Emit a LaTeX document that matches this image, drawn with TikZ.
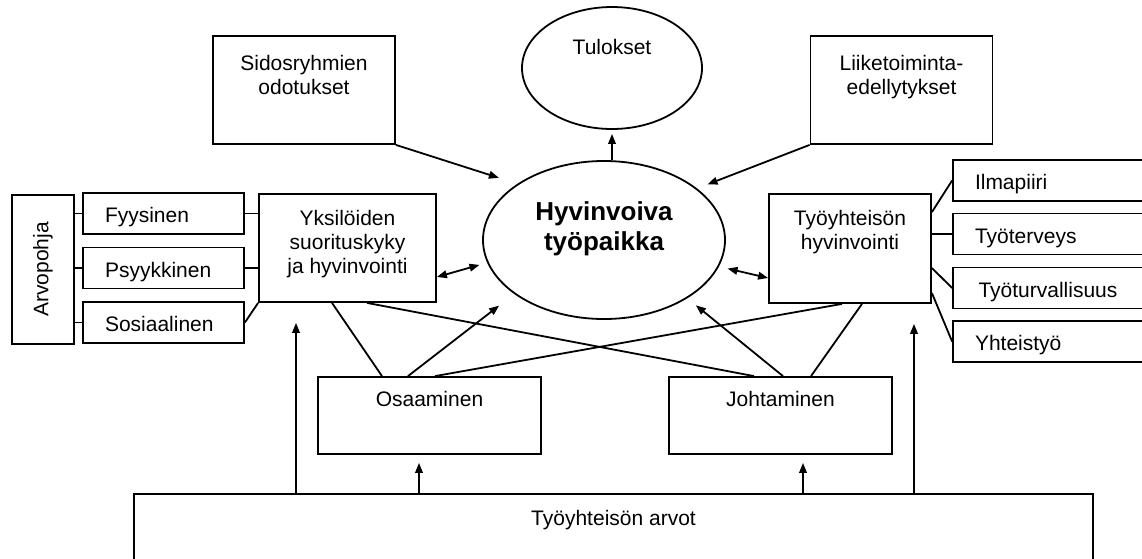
\documentclass[tikz,border=0pt]{standalone}
\usepackage{fontspec}
\setmainfont{Liberation Sans}
\usetikzlibrary{shapes.geometric, arrows.meta}

\begin{document}
\begin{tikzpicture}[x=0.5pt, y=-0.5pt, line width=0.9pt,
  font=\fontsize{10.5pt}{12pt}\selectfont,
  >={Triangle[length=5pt, width=3.8pt]},
  box/.style={draw, inner sep=0pt},
  sidebox/.style={draw, align=left, text width=58.5pt, inner xsep=11pt, text height=9.3pt, text depth=0pt, minimum height=20.5pt},
  toplabel/.style={anchor=north, align=center, inner sep=0pt}]
\useasboundingbox (0,0) rectangle (1142,558);

\node[box, minimum width=91pt, minimum height=54pt, label={[toplabel, yshift=-9.75pt]north:Sidosryhmien\\odotukset}] (sidos) at (304,90) {};
\node[box, ellipse, minimum width=90pt, minimum height=61pt, label={[toplabel, yshift=-16.25pt]north:Tulokset}] (tulokset) at (612,68) {};
\node[box, minimum width=91pt, minimum height=54pt, label={[toplabel, yshift=-9.75pt]north:Liiketoiminta-\\edellytykset}] (liike) at (901.5,90) {};
\node[box, ellipse, minimum width=121pt, minimum height=79pt, label={[toplabel, yshift=-20.3pt, font=\bfseries\fontsize{13pt}{15pt}\selectfont]north:Hyvinvoiva\\työpaikka}] (hyvin) at (604,240) {};

\node[box, minimum width=88.5pt, minimum height=54pt, label={[toplabel, yshift=-8.25pt]north:Yksilöiden\\suorituskyky\\ja hyvinvointi}] (yksil) at (347.5,248) {};
\node[box, minimum width=81pt, minimum height=54.5pt, label={[toplabel, yshift=-8.25pt]north:Työyhteisön\\hyvinvointi}] (tyoyht) at (850,248.5) {};

\node[box, rotate=90, minimum width=74.5pt, minimum height=31pt] (arvo) at (43,269.5) {Arvopohja};
\node[sidebox] (fyys) at (163.5,213.5) {Fyysinen};
\node[sidebox] (psyyk) at (163.5,268) {Psyykkinen};
\node[sidebox] (sosiaal) at (163.5,322.5) {Sosiaalinen};

\node[sidebox, text width=81.5pt] (ilma) at (1056.5,180.5) {Ilmapiiri};
\node[sidebox, text width=81.5pt] (tyoterv) at (1056.5,234) {Työterveys};
\node[sidebox, text width=81.5pt] (tyoturva) at (1056.5,288) {\,Työturvallisuus};
\node[sidebox, text width=81.5pt] (yhteis) at (1056.5,341.5) {Yhteistyö};

\node[box, minimum width=111.5pt, minimum height=38.5pt, label={[toplabel, yshift=-7.25pt]north:Osaaminen}] (osaam) at (429.5,415.5) {};
\node[box, minimum width=111.5pt, minimum height=38.5pt, label={[toplabel, yshift=-7.25pt]north:Johtaminen}] (johta) at (780.5,415.5) {};
\node[box, minimum width=479.5pt, minimum height=53pt, label={[toplabel, yshift=-8.25pt]north:Työyhteisön arvot}] (arvot) at (613.5,547) {};

\draw (arvo.south |- fyys.west) -- (fyys.west);
\draw (arvo.south |- psyyk.west) -- (psyyk.west);
\draw (arvo.south |- sosiaal.west) -- (sosiaal.west);
\draw (fyys.east) -- (fyys.east -| yksil.west);
\draw (psyyk.east) -- (psyyk.east -| yksil.west);
\draw (sosiaal.east) -- (yksil.south west);

\draw ([yshift=-9.5pt]tyoyht.north east) -- (ilma.west);
\draw (tyoterv.west) -- (tyoterv.west -| tyoyht.east);
\draw ([yshift=-9.75pt]tyoyht.east) -- (tyoturva.west);
\draw ([yshift=-22.25pt]tyoyht.east) -- (yhteis.west);

\draw[->, shorten >=9.7pt] (sidos.south east) -- (hyvin.147);
\draw[->, shorten >=5.6pt] (liike.south west) -- (hyvin.29);
\draw[->, shorten >=2pt] (hyvin.north -| tulokset.south) -- (tulokset.south);
\draw[<->, shorten >=4pt] ([yshift=-14.5pt]yksil.east) -- (hyvin.191);
\draw[<->, shorten >=4.4pt] ([yshift=-14.75pt]tyoyht.west) -- (hyvin.347);

\draw ([xshift=-7.75pt]yksil.south) -- ([xshift=-23.75pt]osaam.north);
\draw ([xshift=9.75pt]yksil.south) -- ([xshift=-13.25pt]johta.north);
\draw[->, shorten >=9.5pt] ([xshift=-10.75pt]osaam.north) -- (hyvin.211);
\draw ([xshift=2.75pt]osaam.north) -- ([xshift=-4pt]tyoyht.south);
\draw[->, shorten >=5.5pt] ([xshift=1.25pt]johta.north) -- (hyvin.325);
\draw ([xshift=15.25pt]johta.north) -- ([xshift=6pt]tyoyht.south);

\draw[->, shorten >=10pt] ([xshift=-25.75pt]yksil.south |- arvot.north) -- ([xshift=-25.75pt]yksil.south);
\draw[->, shorten >=4pt] ([xshift=-5.25pt]osaam.south |- arvot.north) -- ([xshift=-5.25pt]osaam.south);
\draw[->, shorten >=4pt] ([xshift=11.25pt]johta.south |- arvot.north) -- ([xshift=11.25pt]johta.south);
\draw[->, shorten >=10pt] ([xshift=32pt]tyoyht.south |- arvot.north) -- ([xshift=32pt]tyoyht.south);
\end{tikzpicture}
\end{document}
